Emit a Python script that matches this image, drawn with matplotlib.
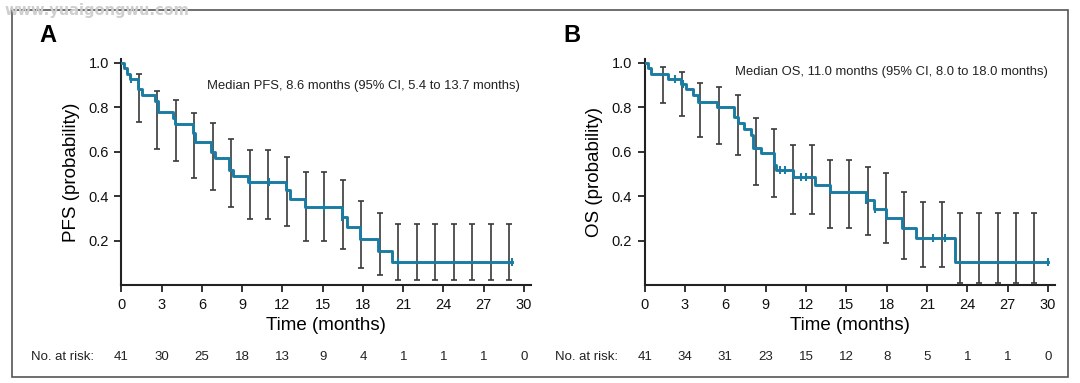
import matplotlib
matplotlib.use("Agg")
import matplotlib.pyplot as plt
from matplotlib.patches import Rectangle
from matplotlib.transforms import blended_transform_factory

plt.rcParams['font.family'] = ['Liberation Sans', 'DejaVu Sans']

# --- Panel A: PFS (Kaplan-Meier steps) ---
pfs_time = [0, 0.22, 0.40, 0.62, 1.26, 1.50, 2.50, 2.70, 3.85, 4.00, 5.30, 5.45,
            6.68, 6.95, 8.04, 8.34, 9.46, 12.24, 12.56, 13.68, 16.41, 16.83,
            17.78, 19.15, 20.14, 29.08]
pfs_surv = [1.0, 0.976, 0.951, 0.927, 0.880, 0.855, 0.828, 0.777, 0.750, 0.723,
            0.684, 0.645, 0.600, 0.570, 0.518, 0.492, 0.462, 0.428, 0.386, 0.351,
            0.308, 0.263, 0.208, 0.155, 0.103, 0.103]
pfs_cens_t = [0.69, 9.60, 11.0, 15.10, 16.45, 20.63, 29.08]
pfs_cens_s = [0.927, 0.462, 0.462, 0.351, 0.308, 0.103, 0.103]
pfs_ci_t = [1.30, 2.68, 4.06, 5.44, 6.82, 8.20, 9.58, 10.96, 12.34, 13.72, 15.10,
            16.48, 17.86, 19.24, 20.62, 22.00, 23.38, 24.76, 26.14, 27.52, 28.90]
pfs_ci_hi = [0.948, 0.875, 0.834, 0.775, 0.728, 0.656, 0.608, 0.608, 0.577, 0.508,
             0.508, 0.473, 0.377, 0.323, 0.274, 0.274, 0.274, 0.274, 0.274, 0.274, 0.274]
pfs_ci_lo = [0.735, 0.611, 0.556, 0.480, 0.428, 0.350, 0.298, 0.298, 0.266, 0.200,
             0.200, 0.161, 0.078, 0.046, 0.023, 0.023, 0.023, 0.023, 0.023, 0.023, 0.023]
pfs_risk = [41, 30, 25, 18, 13, 9, 4, 1, 1, 1, 0]

# --- Panel B: OS ---
os_time = [0, 0.22, 0.47, 1.71, 2.70, 3.07, 3.57, 3.94, 5.36, 6.67, 6.92, 7.41,
           7.91, 8.05, 8.68, 9.60, 9.75, 11.03, 12.68, 13.77, 16.47, 17.05,
           17.95, 19.17, 20.19, 23.11, 29.98]
os_surv = [1.0, 0.978, 0.949, 0.927, 0.905, 0.880, 0.855, 0.825, 0.802, 0.757,
           0.728, 0.702, 0.675, 0.617, 0.595, 0.540, 0.518, 0.488, 0.450, 0.418,
           0.382, 0.342, 0.301, 0.258, 0.212, 0.106, 0.106]
os_cens_t = [2.28, 2.83, 10.1, 10.45, 11.6, 12.0, 16.47, 17.1, 21.43, 22.37, 29.98]
os_cens_s = [0.927, 0.905, 0.518, 0.518, 0.488, 0.488, 0.382, 0.342, 0.212, 0.212, 0.106]
os_ci_t = [1.39, 2.78, 4.12, 5.50, 6.92, 8.28, 9.64, 11.06, 12.42, 13.81, 15.22,
           16.59, 17.95, 19.30, 20.73, 22.12, 23.48, 24.90, 26.27, 27.63, 28.99]
os_ci_hi = [0.982, 0.960, 0.907, 0.889, 0.855, 0.750, 0.704, 0.630, 0.630, 0.563,
            0.563, 0.533, 0.503, 0.420, 0.375, 0.375, 0.326, 0.326, 0.326, 0.326, 0.326]
os_ci_lo = [0.820, 0.760, 0.667, 0.636, 0.585, 0.450, 0.398, 0.320, 0.320, 0.256,
            0.256, 0.226, 0.191, 0.118, 0.083, 0.083, 0.011, 0.011, 0.011, 0.011, 0.011]
os_risk = [41, 34, 31, 23, 15, 12, 8, 5, 1, 1, 0]

risk_times = [0, 3, 6, 9, 12, 15, 18, 21, 24, 27, 30]
y_ticks = [0.2, 0.4, 0.6, 0.8, 1.0]

CURVE = "#1b7ca3"
BAR = "#3a3a3a"
W, H = 1080, 383

fig = plt.figure(figsize=(W / 100, H / 100), dpi=100)


def panel(rect, letter, letter_x, times, surv, ct, cs, bt, bhi, blo, risk,
          ylabel, note, note_x, note_y, risk_label_x):
    ax = fig.add_axes(rect)
    # CI bars
    mid = [(h + l) / 2 for h, l in zip(bhi, blo)]
    err = [[m - l for m, l in zip(mid, blo)], [h - m for h, m in zip(bhi, mid)]]
    ax.errorbar(bt, mid, yerr=err, fmt="none", ecolor=BAR, elinewidth=1.2,
                capsize=2.3, capthick=1.2, zorder=2)
    ax.step(times, surv, where="post", color=CURVE, lw=2.1, zorder=3)
    ax.plot(ct, cs, ls="none", marker="|", ms=6, mew=1.5, color=CURVE, zorder=4)

    ax.set_xlim(0, 30.5)
    ax.set_ylim(0, 1.015)
    ax.set_xticks(risk_times)
    ax.set_yticks(y_ticks)
    ax.set_yticklabels([f"{v:.1f}" for v in y_ticks])
    for s in ["top", "right"]:
        ax.spines[s].set_visible(False)
    for s in ["left", "bottom"]:
        ax.spines[s].set_linewidth(1.5)
        ax.spines[s].set_color("#222222")
    ax.tick_params(direction="out", length=5, width=1.3, color="#222222",
                   labelsize=10.5, labelcolor="#111111", pad=4)
    ax.set_xlabel("Time (months)", fontsize=13.5, labelpad=4)
    ax.set_ylabel(ylabel, fontsize=13.5, labelpad=6)
    ax.text(note_x, note_y, note, fontsize=9.4, color="#222222",
            transform=fig.transFigure, va="center", ha="left")
    fig.text(letter_x / W, 1 - 35 / H, letter, fontsize=17, fontweight="bold",
             ha="center", va="center")

    trans = blended_transform_factory(ax.transData, fig.transFigure)
    ry = 1 - 357 / H
    for t, n in zip(risk_times, risk):
        ax.text(t, ry, str(n), transform=trans, ha="center", va="center",
                fontsize=9.5, color="#222222")
    fig.text(risk_label_x / W, ry, "No. at risk:", ha="left", va="center",
             fontsize=9.5, color="#222222")
    return ax


panel([121.4 / W, 1 - 285.2 / H, 30.5 * 13.42 / W, 1.015 * 222.5 / H], "A", 48,
      pfs_time, pfs_surv, pfs_cens_t, pfs_cens_s, pfs_ci_t, pfs_ci_hi, pfs_ci_lo,
      pfs_risk, "PFS (probability)",
      "Median PFS, 8.6 months (95% CI, 5.4 to 13.7 months)", 207 / W, 1 - 86 / H, 31)

panel([644.7 / W, 1 - 285.2 / H, 30.5 * 13.44 / W, 1.015 * 222.5 / H], "B", 572,
      os_time, os_surv, os_cens_t, os_cens_s, os_ci_t, os_ci_hi, os_ci_lo,
      os_risk, "OS (probability)",
      "Median OS, 11.0 months (95% CI, 8.0 to 18.0 months)", 735 / W, 1 - 72 / H, 555)

# outer frame and watermark
fig.add_artist(Rectangle((12 / W, 1 - 377 / H), (1068 - 12) / W, (377 - 10) / H,
                         transform=fig.transFigure, fill=False,
                         edgecolor="#555555", lw=1.2))
fig.text(4 / W, 1 - 11 / H, "www.yuaigongwu.com", fontsize=10.5, fontweight="bold",
         color="#cfcfcf", ha="left", va="center", family="DejaVu Sans")

fig.savefig("out.png", dpi=100)
